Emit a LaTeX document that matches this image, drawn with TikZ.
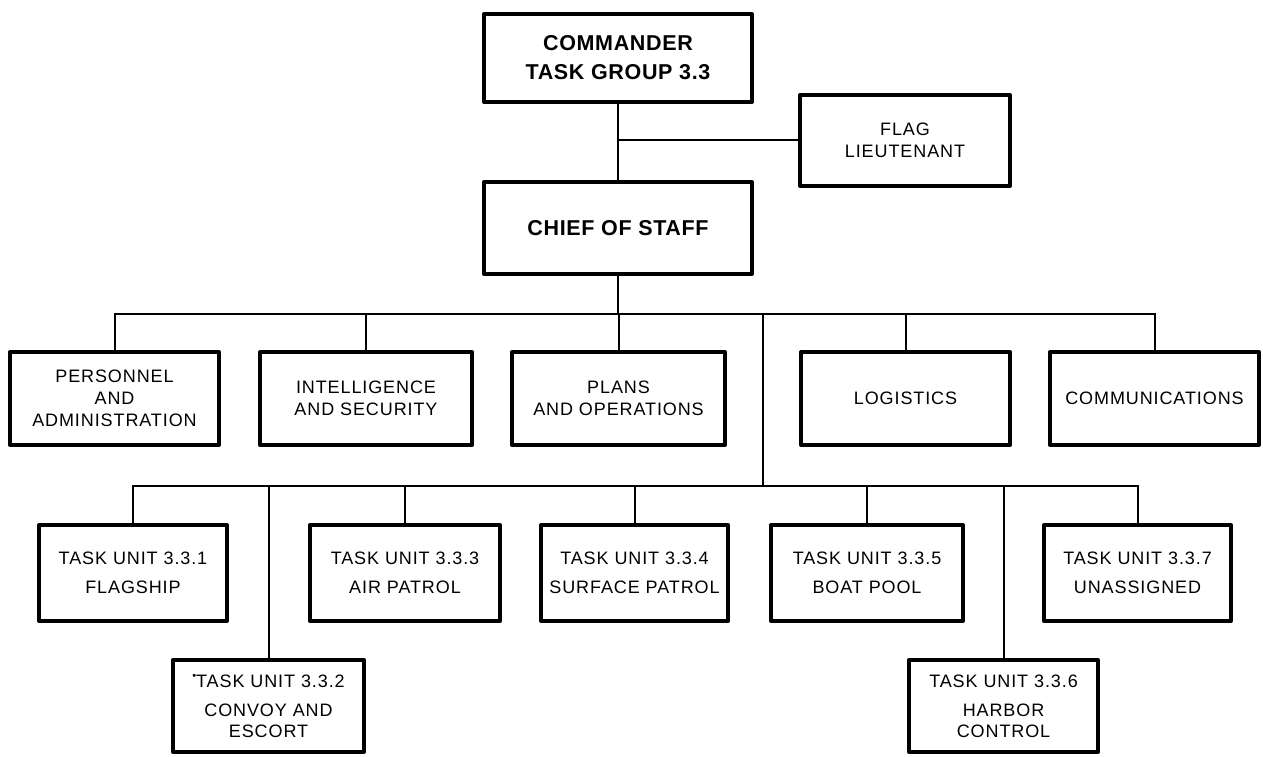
\documentclass[tikz,border=0pt]{standalone}
\usepackage{fontspec}
\setmainfont{Liberation Sans}
\newfontfamily\lab[LetterSpace=5]{Liberation Sans}
\newfontfamily\hdf[LetterSpace=3]{Liberation Sans}
\begin{document}
\begin{tikzpicture}[x=1pt,y=-1pt,
  box/.style={draw, line width=4pt, line join=round, inner sep=0pt, align=center,
    font=\lab\fontsize{18}{22}\selectfont},
  headbox/.style={box, font=\hdf\bfseries\fontsize{21.5}{29}\selectfont},
  tubox/.style={box, minimum height=96pt, font=\lab\fontsize{18}{21}\selectfont},
  lowbox/.style={box, minimum height=92pt, font=\lab\fontsize{18}{21}\selectfont},
  staffbox/.style={box, minimum height=93pt},
  conn/.style={line width=2pt}]
\useasboundingbox (0,0) rectangle (1263,757);

% top
\node[headbox, minimum width=268pt, minimum height=88pt] (cmd) at (618,58) {COMMANDER\\TASK GROUP 3.3};
\node[box, minimum width=210pt, minimum height=91pt] (flag) at (905,140.5) {FLAG\\LIEUTENANT};
\node[headbox, minimum width=268pt, minimum height=92pt] (chief) at (618,228) {CHIEF OF STAFF};

% staff row
\node[staffbox, minimum width=209pt] (pers) at (114.5,398.5) {PERSONNEL\\AND\\ADMINISTRATION};
\node[staffbox, minimum width=212pt] (intel) at (366,398.5) {INTELLIGENCE\\AND SECURITY};
\node[staffbox, minimum width=213pt] (plans) at (618.5,398.5) {PLANS\\AND OPERATIONS};
\node[staffbox, minimum width=209pt] (logi) at (905.5,398.5) {LOGISTICS};
\node[staffbox, minimum width=209pt] (comm) at (1154.5,398.5) {COMMUNICATIONS};

% task unit row
\node[tubox, minimum width=188pt] (tu1) at (133,573) {TASK UNIT 3.3.1\\[8pt]FLAGSHIP};
\node[tubox, minimum width=190pt] (tu3) at (405,573) {TASK UNIT 3.3.3\\[8pt]AIR PATROL};
\node[tubox, minimum width=187pt] (tu4) at (634.5,573) {TASK UNIT 3.3.4\\[8pt]SURFACE PATROL};
\node[tubox, minimum width=192pt] (tu5) at (867,573) {TASK UNIT 3.3.5\\[8pt]BOAT POOL};
\node[tubox, minimum width=187pt] (tu7) at (1137.5,573) {TASK UNIT 3.3.7\\[8pt]UNASSIGNED};

% lower row
\node[lowbox, minimum width=191pt] (tu2) at (268.5,706) {{\raisebox{0.45em}{\fontsize{11}{11}\selectfont •}}TASK UNIT 3.3.2\\[8pt]CONVOY AND\\ESCORT};
\node[lowbox, minimum width=189pt] (tu6) at (1003.5,706) {TASK UNIT 3.3.6\\[8pt]HARBOR\\CONTROL};

% bus coordinates
\coordinate (b1) at (618,314);
\coordinate (v1) at (763,314);
\coordinate (b2) at (763,486);

% connectors
\draw[conn] (cmd.south) -- (chief.north);
\draw[conn] (flag.west) -- (flag.west -| cmd.south);
\draw[conn] (chief.south) -- (b1);
\draw[conn] (pers.north) -- (pers.north |- b1) -- (comm.north |- b1) -- (comm.north);
\draw[conn] (intel.north) -- (intel.north |- b1);
\draw[conn] (plans.north) -- (plans.north |- b1);
\draw[conn] (logi.north) -- (logi.north |- b1);
\draw[conn] (v1) -- (b2);
\draw[conn] (tu1.north) -- (tu1.north |- b2) -- (tu7.north |- b2) -- (tu7.north);
\draw[conn] (tu3.north) -- (tu3.north |- b2);
\draw[conn] (tu4.north) -- (tu4.north |- b2);
\draw[conn] (tu5.north) -- (tu5.north |- b2);
\draw[conn] (tu2.north) -- (tu2.north |- b2);
\draw[conn] (tu6.north) -- (tu6.north |- b2);
\end{tikzpicture}
\end{document}
